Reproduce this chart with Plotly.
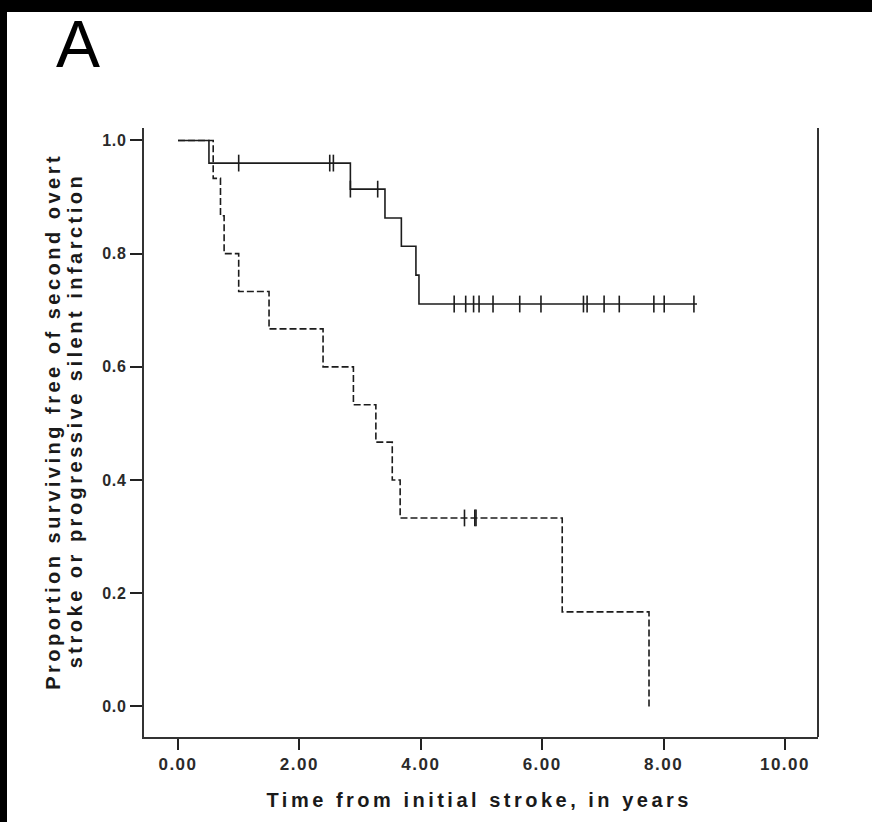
import numpy as np
import plotly.graph_objects as go

# ---------------- data ----------------
# Group with solid line (n = 25)
solid_times = [0.0, 0.51, 2.84, 3.41, 3.68, 3.92, 3.97, 8.55]
solid_surv = [1.0, 0.960, 0.914, 0.863, 0.813, 0.762, 0.711, 0.711]
solid_censor = [1.0, 2.50, 2.56, 2.84, 3.29, 4.55, 4.74, 4.87, 4.96, 5.19,
                5.63, 5.98, 6.68, 6.74, 7.02, 7.27, 7.84, 8.01, 8.50]

# Group with dashed line (n = 15)
dash_times = [0.0, 0.58, 0.70, 0.76, 1.00, 1.50, 2.39, 2.89, 3.26, 3.53, 3.66, 6.33, 7.76]
dash_surv = [1.0, 0.933, 0.867, 0.800, 0.733, 0.667, 0.600, 0.533, 0.467, 0.400, 0.333, 0.167, 0.0]
dash_censor = [4.72, 4.89, 4.91]

x_ticks = [0, 2, 4, 6, 8, 10]
x_ticklabels = ["0.00", "2.00", "4.00", "6.00", "8.00", "10.00"]
y_ticks = [0.0, 0.2, 0.4, 0.6, 0.8, 1.0]
y_ticklabels = ["0.0", "0.2", "0.4", "0.6", "0.8", "1.0"]

panel_label = "A"
x_title = "Time from initial stroke, in years"
y_title_lines = ["Proportion surviving free of second overt",
                 "stroke or progressive silent infarction"]


def step_value(times, surv, t):
    idx = np.searchsorted(np.array(times), t, side="right") - 1
    return surv[max(idx, 0)]


solid_censor_y = [step_value(solid_times, solid_surv, t) for t in solid_censor]
dash_censor_y = [step_value(dash_times, dash_surv, t) for t in dash_censor]

# ---------------- layout geometry ----------------
W, H = 872, 822
L, R, T, B = 144, 818, 128, 737   # plot area in pixels
pw, ph = R - L, B - T


def px_x(p):
    return (p - L) / pw


def px_y(p):
    return (B - p) / ph


ink = "#1c1c1c"
FONT = "Liberation Sans, Arial, sans-serif"

fig = go.Figure()

fig.add_trace(go.Scatter(
    x=solid_times, y=solid_surv, mode="lines", line_shape="hv",
    line=dict(color=ink, width=1.6), showlegend=False, hoverinfo="skip"))
fig.add_trace(go.Scatter(
    x=dash_times, y=dash_surv, mode="lines", line_shape="hv",
    line=dict(color=ink, width=1.6, dash="7px,3px"), showlegend=False, hoverinfo="skip"))
fig.add_trace(go.Scatter(
    x=solid_censor, y=solid_censor_y, mode="markers",
    marker=dict(symbol="line-ns", size=12, line=dict(color=ink, width=1.6)),
    showlegend=False, hoverinfo="skip"))
fig.add_trace(go.Scatter(
    x=dash_censor, y=dash_censor_y, mode="markers",
    marker=dict(symbol="line-ns", size=12, line=dict(color=ink, width=1.6)),
    showlegend=False, hoverinfo="skip"))

fig.update_layout(
    width=W, height=H, autosize=False,
    margin=dict(l=L, r=W - R, t=T, b=H - B, pad=0),
    paper_bgcolor="white", plot_bgcolor="white",
    font=dict(family=FONT, color="#222"),
    xaxis=dict(range=[-0.56, 10.544], tickvals=x_ticks, ticktext=x_ticklabels,
               showline=True, linecolor="#333", linewidth=2,
               ticks="outside", ticklen=11, tickwidth=2, tickcolor="#222",
               showgrid=False, zeroline=False,
               tickfont=dict(family=FONT, size=17, weight="bold", color="#2a2a2a")),
    yaxis=dict(range=[-0.054, 1.022], tickvals=y_ticks, ticktext=y_ticklabels,
               showline=True, linecolor="#333", linewidth=2,
               ticks="outside", ticklen=12, tickwidth=2, tickcolor="#222",
               showgrid=False, zeroline=False,
               tickfont=dict(family=FONT, size=16, weight="bold", color="#2a2a2a")),
)

# right border line
fig.add_shape(type="line", xref="paper", yref="paper", x0=1, x1=1, y0=0, y1=1,
              line=dict(color="#333", width=2))
# black frame strips (top and left)
fig.add_shape(type="rect", xref="paper", yref="paper",
              x0=px_x(0), x1=px_x(7), y0=px_y(H), y1=px_y(0),
              fillcolor="black", line=dict(width=0), layer="above")
fig.add_shape(type="rect", xref="paper", yref="paper",
              x0=px_x(0), x1=px_x(W), y0=px_y(12), y1=px_y(0),
              fillcolor="black", line=dict(width=0), layer="above")

fig.add_annotation(text=panel_label, xref="paper", yref="paper",
                   x=px_x(54), y=px_y(44), xanchor="left", yanchor="middle",
                   showarrow=False, font=dict(family=FONT, size=66, color="black"))
fig.add_annotation(text=x_title, xref="paper", yref="paper",
                   x=px_x(479), y=px_y(800), xanchor="center", yanchor="middle",
                   showarrow=False, font=dict(family=FONT, size=20, weight="bold", color="#1a1a1a"))
for i, (line_txt, cx) in enumerate(zip(y_title_lines, [53, 75])):
    fig.add_annotation(text=line_txt, xref="paper", yref="paper", textangle=-90,
                       x=px_x(cx), y=px_y(421), xanchor="center", yanchor="middle",
                       showarrow=False,
                       font=dict(family=FONT, size=20, weight="bold", color="#1a1a1a"))

post = """
function sp(){
  document.querySelectorAll('g.xtick text').forEach(function(t){t.style.letterSpacing='1.5px';});
  document.querySelectorAll('g.ytick text').forEach(function(t){t.style.letterSpacing='0.8px';});
  document.querySelectorAll('g.annotation text').forEach(function(t){
    if (t.textContent.length > 5) t.style.letterSpacing='3.5px';
  });
}
sp();
var gd = document.getElementById('{plot_id}');
if (gd && gd.on) gd.on('plotly_afterplot', sp);
"""

fig.write_html("out.html", post_script=post, config={"displayModeBar": False})
